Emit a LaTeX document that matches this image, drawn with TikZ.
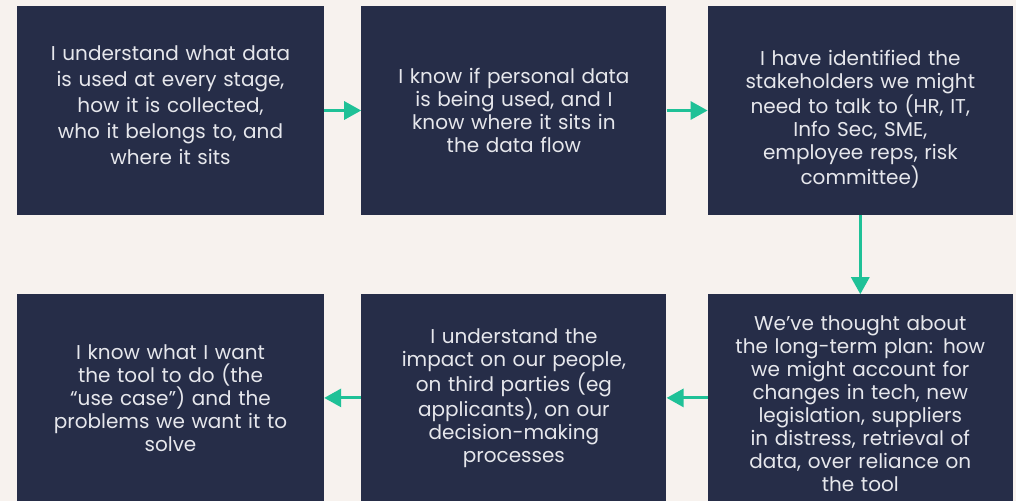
\documentclass[tikz,border=0pt]{standalone}
\usepackage{fontspec}
\setmainfont{Poppins}
\usetikzlibrary{arrows.meta,positioning}
\definecolor{paper}{HTML}{F7F2EE}
\definecolor{navybox}{HTML}{262D48}
\definecolor{boxtext}{HTML}{E6E7EC}
\definecolor{flowgreen}{HTML}{1FC197}

\begin{document}
\begin{tikzpicture}[x=1pt,y=-1pt,
                    stage/.style={rectangle, fill=navybox, text=boxtext, minimum width=305pt, minimum height=209pt,
                                  text width=290pt, align=center, inner sep=0pt,
                                  font=\fontsize{20}{23}\selectfont},
                    flow/.style={-{Triangle[length=17pt,width=18pt]}, line width=3pt, flowgreen}
                ]
                    % page and margins
                    \fill[paper] (0,0) rectangle (1016,501);
                    \useasboundingbox (0,0) rectangle (1016,501);

                    % top row, left to right
                    \node[stage, minimum width=307pt, font=\fontsize{20}{26}\selectfont] (datamap) at (170.5,110.5)
                        {I understand what data\\is used at every stage,\\how it is collected,\\who it belongs to, and\\where it sits\rule[-10pt]{0pt}{0pt}};
                    \node[stage, right=37pt of datamap] (personal)
                        {I know if personal data\\is being used, and I\\know where it sits in\\the data flow};
                    \node[stage, right=41pt of personal] (stakeholders)
                        {\rule{0pt}{32pt}I have identified the\\stakeholders we might\\need to talk to (HR, IT,\\Info Sec, SME,\\employee reps, risk\\committee)};

                    % bottom row, right to left
                    \node[stage, minimum height=207pt, below=79pt of stakeholders] (longterm)
                        {\rule{0pt}{26pt}We’ve thought about\\the long-term plan: how\\we might account for\\changes in tech, new\\legislation, suppliers\\in distress, retrieval of\\data, over reliance on\\the tool};
                    \node[stage, minimum height=207pt, left=41pt of longterm] (impact)
                        {I understand the\\impact on our people,\\on third parties (eg\\applicants), on our\\decision-making\\processes};
                    \node[stage, minimum height=207pt, minimum width=307pt, left=37pt of impact] (usecase)
                        {I know what I want\\the tool to do (the\\“use case”) and the\\problems we want it to\\solve};

                    \draw[flow] (datamap) -- (personal);
                    \draw[flow] (personal) -- (stakeholders);
                    \draw[flow] (stakeholders) -- (longterm);
                    \draw[flow] (longterm) -- (impact);
                    \draw[flow] (impact) -- (usecase);
                \end{tikzpicture}
\end{document}
